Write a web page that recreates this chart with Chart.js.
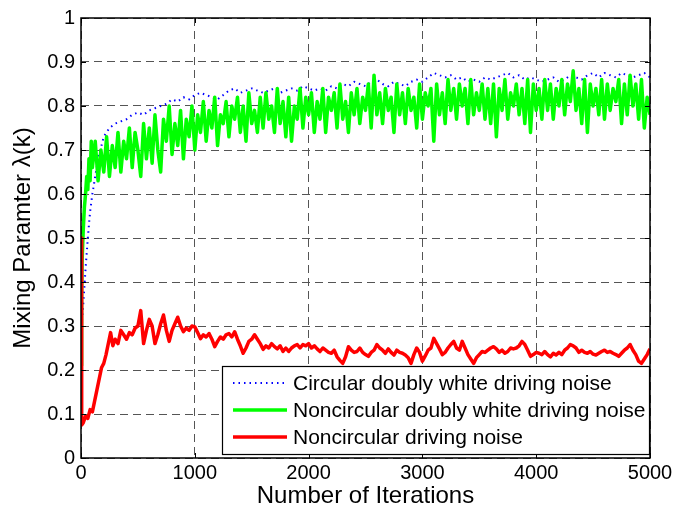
<!DOCTYPE html>
<html>
<head>
<meta charset="utf-8">
<script src="https://cdn.jsdelivr.net/npm/chart.js@4.4.1/dist/chart.umd.min.js"></script>
<style>
    body { margin: 0; background: #fff; }
    #box { width: 676px; height: 519px; }
</style>
</head>
<body>
<div id="box"><canvas id="ctx" width="676" height="519"></canvas></div>
<script>
// 横轴刻度
const xTicks = [0, 1000, 2000, 3000, 4000, 5000]
const yTicks = [0, 0.1, 0.2, 0.3, 0.4, 0.5, 0.6, 0.7, 0.8, 0.9, 1]
const names = ['Circular doubly white driving noise', 'Noncircular doubly white driving noise', 'Noncircular driving noise']

// 蓝线 (开头几个点 + 每50次迭代)
const blueEarlyX = [0, 5, 20, 40, 60, 80]
const blueEarlyY = [0.5, 0.3, 0.35, 0.43, 0.5, 0.56]
const blueStart = 100, blueStep = 50
const blueY = [
    0.60, 0.68, 0.73, 0.75, 0.76, 0.765, 0.77, 0.78, 0.785, 0.78,
    0.79, 0.795, 0.80, 0.805, 0.815, 0.81, 0.82, 0.815, 0.825, 0.83,
    0.825, 0.82, 0.815, 0.825, 0.835, 0.84, 0.83, 0.835, 0.84, 0.835,
    0.83, 0.835, 0.84, 0.83, 0.835, 0.84, 0.835, 0.845, 0.84, 0.835,
    0.84, 0.835, 0.845, 0.84, 0.85, 0.845, 0.855, 0.85, 0.845, 0.855,
    0.86, 0.85, 0.845, 0.855, 0.85, 0.845, 0.855, 0.86, 0.855, 0.865,
    0.875, 0.87, 0.865, 0.87, 0.86, 0.865, 0.855, 0.86, 0.855, 0.865,
    0.86, 0.865, 0.87, 0.875, 0.865, 0.87, 0.86, 0.865, 0.86, 0.855,
    0.86, 0.865, 0.855, 0.86, 0.87, 0.865, 0.86, 0.87, 0.875, 0.865,
    0.875, 0.87, 0.865, 0.875, 0.87, 0.865, 0.87, 0.875, 0.865
]

// 绿线 (每25次迭代)
const greenEarlyX = [0, 5, 10, 20, 30, 40, 50, 60, 70, 80, 90]
const greenEarlyY = [0.21, 0.36, 0.45, 0.52, 0.57, 0.6, 0.64, 0.61, 0.68, 0.63, 0.72]
const greenStart = 100, greenStep = 25
const greenY = [
    0.66, 0.72, 0.63, 0.70, 0.65, 0.73, 0.64, 0.71, 0.66, 0.74,
    0.65, 0.72, 0.68, 0.75, 0.66, 0.74, 0.70, 0.64, 0.76, 0.68,
    0.75, 0.67, 0.78, 0.70, 0.65, 0.77, 0.72, 0.80, 0.69, 0.76,
    0.71, 0.79, 0.68, 0.77, 0.73, 0.80, 0.70, 0.78, 0.74, 0.81,
    0.72, 0.79, 0.75, 0.82, 0.71, 0.78, 0.76, 0.81, 0.73, 0.80,
    0.77, 0.82, 0.74, 0.80, 0.72, 0.83, 0.76, 0.79, 0.74, 0.82,
    0.75, 0.83, 0.77, 0.80, 0.74, 0.84, 0.76, 0.81, 0.73, 0.82,
    0.72, 0.80, 0.77, 0.84, 0.75, 0.82, 0.78, 0.83, 0.74, 0.81,
    0.77, 0.84, 0.74, 0.82, 0.79, 0.83, 0.75, 0.85, 0.77, 0.81,
    0.74, 0.83, 0.78, 0.84, 0.76, 0.82, 0.79, 0.85, 0.75, 0.87,
    0.78, 0.83, 0.76, 0.84, 0.79, 0.82, 0.74, 0.85, 0.78, 0.83,
    0.76, 0.84, 0.79, 0.82, 0.75, 0.85, 0.77, 0.83, 0.80, 0.84,
    0.72, 0.85, 0.78, 0.83, 0.76, 0.86, 0.79, 0.84, 0.77, 0.85,
    0.80, 0.84, 0.76, 0.86, 0.78, 0.83, 0.79, 0.85, 0.77, 0.84,
    0.76, 0.85, 0.73, 0.84, 0.79, 0.86, 0.77, 0.83, 0.80, 0.85,
    0.78, 0.84, 0.76, 0.86, 0.74, 0.85, 0.79, 0.84, 0.77, 0.86,
    0.79, 0.85, 0.77, 0.84, 0.80, 0.86, 0.78, 0.85, 0.81, 0.88,
    0.79, 0.84, 0.76, 0.86, 0.74, 0.85, 0.80, 0.84, 0.78, 0.86,
    0.77, 0.85, 0.79, 0.84, 0.81, 0.86, 0.76, 0.85, 0.78, 0.87,
    0.80, 0.85, 0.77, 0.86, 0.75, 0.82, 0.78
]

// 红线 (每25次迭代)
const redEarlyX = [0, 4, 8, 20, 40, 60, 80, 100, 120, 140, 160, 180, 200, 220, 240, 260, 280]
const redEarlyY = [0.5, 0.25, 0.075, 0.08, 0.095, 0.09, 0.11, 0.105, 0.13, 0.155, 0.18, 0.205, 0.215, 0.235, 0.26, 0.285, 0.255]
const redStart = 300, redStep = 25
const redY = [
    0.27, 0.26, 0.29, 0.28, 0.27, 0.285, 0.28, 0.295, 0.30, 0.335,
    0.26, 0.29, 0.315, 0.30, 0.26, 0.28, 0.305, 0.325, 0.29, 0.265,
    0.29, 0.305, 0.32, 0.30, 0.287, 0.295, 0.29, 0.30, 0.298, 0.285,
    0.271, 0.28, 0.275, 0.283, 0.27, 0.253, 0.265, 0.275, 0.27, 0.28,
    0.283, 0.275, 0.287, 0.27, 0.255, 0.238, 0.25, 0.265, 0.27, 0.28,
    0.27, 0.26, 0.247, 0.255, 0.25, 0.26, 0.253, 0.248, 0.255, 0.242,
    0.25, 0.242, 0.25, 0.255, 0.258, 0.25, 0.258, 0.255, 0.26, 0.25,
    0.255, 0.248, 0.242, 0.25, 0.245, 0.24, 0.238, 0.245, 0.23, 0.222,
    0.215, 0.23, 0.253, 0.245, 0.24, 0.242, 0.25, 0.24, 0.235, 0.231,
    0.24, 0.245, 0.258, 0.25, 0.245, 0.238, 0.248, 0.24, 0.234, 0.245,
    0.24, 0.238, 0.234, 0.228, 0.215, 0.235, 0.25, 0.24, 0.22, 0.232,
    0.245, 0.25, 0.272, 0.26, 0.248, 0.235, 0.24, 0.25, 0.258, 0.265,
    0.25, 0.245, 0.265, 0.25, 0.235, 0.225, 0.215, 0.228, 0.235, 0.242,
    0.24, 0.245, 0.25, 0.253, 0.248, 0.24, 0.245, 0.238, 0.242, 0.25,
    0.248, 0.25, 0.255, 0.265, 0.258, 0.245, 0.231, 0.235, 0.24, 0.238,
    0.235, 0.242, 0.235, 0.23, 0.238, 0.234, 0.24, 0.235, 0.245, 0.25,
    0.258, 0.255, 0.25, 0.24, 0.245, 0.24, 0.238, 0.242, 0.236, 0.234,
    0.238, 0.242, 0.245, 0.24, 0.242, 0.238, 0.235, 0.231, 0.238, 0.245,
    0.25, 0.258, 0.245, 0.235, 0.22, 0.215, 0.225, 0.235, 0.248
]

const FONT = "'Liberation Sans', Helvetica, Arial, sans-serif"

function toPoints(earlyX, earlyY, start, step, ys) {
    let pts = []
    for (let i = 0; i < earlyX.length; i++) {
        pts.push({ x: earlyX[i], y: earlyY[i] })
    }
    for (let i = 0; i < ys.length; i++) {
        pts.push({ x: start + i * step, y: ys[i] })
    }
    return pts
}

// 边框 + 内刻度 + 图例
const matlabFrame = {
    id: 'matlabFrame',
    afterDraw(chart) {
        const c = chart.ctx
        const a = chart.chartArea
        const sx = chart.scales.x
        const sy = chart.scales.y
        c.save()
        c.strokeStyle = '#000'
        c.lineWidth = 1
        c.beginPath()
        for (const v of xTicks) {
            const px = Math.round(sx.getPixelForValue(v)) + 0.5
            c.moveTo(px, a.bottom); c.lineTo(px, a.bottom - 5)
            c.moveTo(px, a.top); c.lineTo(px, a.top + 5)
        }
        for (const v of yTicks) {
            const py = Math.round(sy.getPixelForValue(v)) + 0.5
            c.moveTo(a.left, py); c.lineTo(a.left + 5, py)
            c.moveTo(a.right, py); c.lineTo(a.right - 5, py)
        }
        c.stroke()
        c.lineWidth = 1.5
        c.strokeRect(a.left, a.top, a.right - a.left, a.bottom - a.top)

        // 图例
        const lx = 222, ly = 366, lw = a.right - 222, lh = 89
        c.fillStyle = '#fff'
        c.fillRect(lx, ly, lw, lh)
        c.lineWidth = 1.2
        c.strokeRect(lx + 0.5, ly + 0.5, lw - 1, lh - 1)
        const rows = [383, 410, 437]
        chart.data.datasets.forEach((ds, i) => {
            c.save()
            c.strokeStyle = ds.borderColor
            c.lineWidth = ds.borderWidth
            c.setLineDash(ds.borderDash || [])
            c.beginPath()
            c.moveTo(233, rows[i]); c.lineTo(287, rows[i])
            c.stroke()
            c.restore()
            c.fillStyle = '#000'
            c.font = '21px ' + FONT
            c.textBaseline = 'middle'
            c.fillText(ds.label, 293, rows[i] + 1)
        })
        c.restore()
    }
}

const data = {
    datasets: [
        {
            label: names[0],
            data: toPoints(blueEarlyX, blueEarlyY, blueStart, blueStep, blueY),
            borderColor: 'rgb(0, 0, 255)',
            borderWidth: 2,
            borderDash: [1.5, 4],
            order: 2
        },
        {
            label: names[1],
            data: toPoints(greenEarlyX, greenEarlyY, greenStart, greenStep, greenY),
            borderColor: 'rgb(0, 255, 0)',
            borderWidth: 3.5,
            order: 1
        },
        {
            label: names[2],
            data: toPoints(redEarlyX, redEarlyY, redStart, redStep, redY),
            borderColor: 'rgb(255, 0, 0)',
            borderWidth: 3.5,
            order: 0
        }
    ]
}

const config = {
    type: 'line',
    data: data,
    options: {
        responsive: false,
        animation: false,
        parsing: false,
        elements: {
            point: { radius: 0 },
            line: { tension: 0, fill: false, borderJoinStyle: 'round' }
        },
        layout: { padding: { top: 12, right: 26, left: 0, bottom: 0 } },
        plugins: {
            legend: { display: false },
            tooltip: { enabled: false }
        },
        scales: {
            x: {
                type: 'linear',
                min: 0,
                max: 5000,
                afterFit: (s) => { s.height = 61 },
                afterBuildTicks: (s) => { s.ticks = xTicks.map(v => ({ value: v })) },
                ticks: {
                    padding: 3,
                    color: '#000',
                    font: { family: FONT, size: 20 },
                    maxRotation: 0,
                    callback: (v) => String(v)
                },
                grid: { color: '#555', lineWidth: 1, drawTicks: false },
                border: { display: false, dash: [8, 5] },
                title: {
                    display: true,
                    text: 'Number of Iterations',
                    color: '#000',
                    font: { family: FONT, size: 24 },
                    padding: { top: 0, bottom: 8 }
                }
            },
            y: {
                min: 0,
                max: 1,
                afterFit: (s) => { s.width = 81 },
                afterBuildTicks: (s) => { s.ticks = yTicks.map(v => ({ value: v })) },
                ticks: {
                    padding: 6,
                    color: '#000',
                    font: { family: FONT, size: 20 },
                    callback: (v) => String(+v.toFixed(1))
                },
                grid: { color: '#555', lineWidth: 1, drawTicks: false },
                border: { display: false, dash: [8, 5] },
                title: {
                    display: true,
                    text: 'Mixing Paramter λ(k)',
                    color: '#000',
                    font: { family: FONT, size: 24 },
                    padding: { top: 9, bottom: 0 }
                }
            }
        }
    },
    plugins: [matlabFrame]
}

let myChart = new Chart(document.getElementById('ctx'), config)
</script>
</body>
</html>
